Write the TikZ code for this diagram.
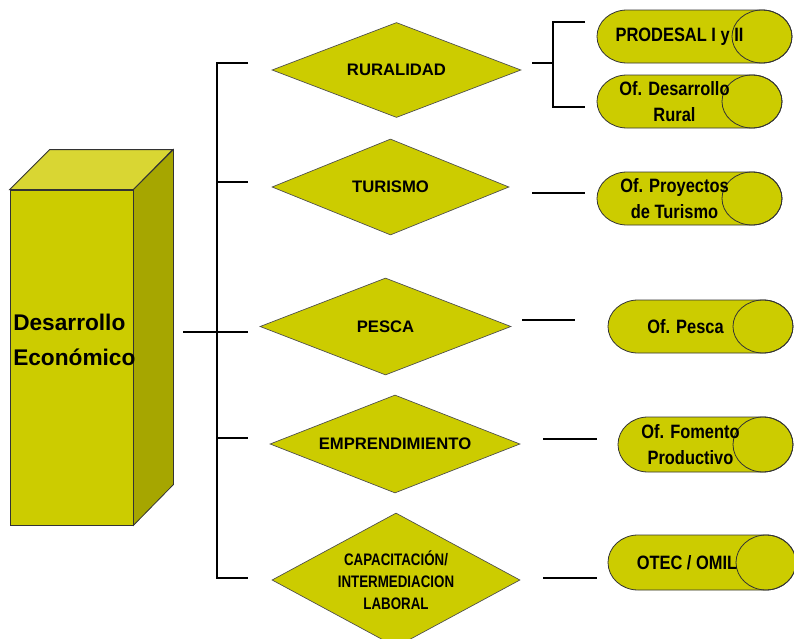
\documentclass[tikz,border=0pt]{standalone}
\usepackage{fontspec}
\setmainfont{Liberation Sans}
\newfontfamily\narrowfont[FakeStretch=0.8]{Liberation Sans}
\newfontfamily\pildfont[FakeStretch=0.85]{Liberation Sans}
\usetikzlibrary{shapes.geometric,positioning}
\definecolor{oliva}{RGB}{204,204,0}
\definecolor{olivaclara}{RGB}{217,214,51}
\definecolor{olivaoscura}{RGB}{166,166,0}
\tikzset{
  link/.style={line width=2.2pt},
  cara/.style={draw=black!80,line width=0.6pt},
  rombo/.style={diamond,draw=black!70,line width=0.5pt,fill=oliva,inner sep=0pt,aspect=2.6,
    font=\bfseries\fontsize{12.5}{15}\selectfont},
  pildtxt/.style={inner sep=0pt,align=center,font=\pildfont\bfseries\fontsize{14.5}{19}\selectfont},
}
\begin{document}
\begin{tikzpicture}[x=0.75pt,y=-0.75pt]
\useasboundingbox (0,0) rectangle (794,639);
% bloque
\node[cara,fill=oliva,minimum width=92.25pt,minimum height=251.25pt,inner sep=0pt] (box) at (71.5,357.5) {};
\draw[cara,fill=olivaclara](box.north west)--++(40,-40)--++(123,0)--(box.north east)--cycle;
\draw[cara,fill=olivaoscura](box.north east)--++(40,-40)--++(0,335)--(box.south east)--cycle;
\node[anchor=west,align=left,inner sep=0pt,font=\bfseries\fontsize{17}{26}\selectfont] (boxtxt) at (13,340) {Desarrollo\\Económico};
% rombos
\node[rombo,minimum width=186.75pt,minimum height=71.25pt] (rur) at (396.5,70) {RURALIDAD};
\node[rombo,minimum width=177.75pt,minimum height=72pt] (tur) at (390.5,187) {TURISMO};
\node[rombo,minimum width=188.25pt,minimum height=72.75pt] (pes) at (385.5,326.5) {PESCA};
\node[rombo,minimum width=187.5pt,minimum height=73.5pt] (emp) at (395,444) {EMPRENDIMIENTO};
\node[rombo,aspect=1.85,minimum width=186pt,minimum height=100.5pt,align=center,font=\narrowfont\bfseries\fontsize{12.5}{16.5}\selectfont] (cap) at (396,580) {CAPACITACIÓN/\\INTERMEDIACION\\LABORAL};
% pildoras
\foreach \n/\xa/\xb/\yc/\h/\txt in {prod/597/792/36.5/26.5/{PRODESAL I y II},
    odr/597/782/101.5/26.5/{Of. Desarrollo\\Rural},
    opt/597/782/198.5/26.5/{Of. Proyectos\\de Turismo},
    ope/608/793/326.5/26.5/{Of. Pesca},
    ofp/618/793/444.5/27.5/{Of. Fomento\\Productivo},
    otec/608/796/562.5/27.5/{OTEC / OMIL}}{
  \draw[cara,fill=oliva]({\xa+30},{\yc-\h})--({\xb-30},{\yc-\h}) arc (-90:90:30 and \h)
    --({\xa+30},{\yc+\h}) arc (90:270:30 and \h)--cycle;
  \draw[cara]({\xb-30},\yc) ellipse (30 and \h);
  \node[pildtxt] (\n) at ({(\xa+\xb-30)/2},\yc) {\txt};
}
% tronco
\draw[link](183,332)--(248,332);
\draw[link](248,63)--(217,63)--(217,578)--(248,578);
\foreach \y in {182,438}{\draw[link](217,\y)--(248,\y);}
% ramas derechas
\draw[link](532,63)--(553,63);
\draw[link](585,22)--(553,22)--(553,107)--(585,107);
\draw[link](532,193)--(585,193);
\draw[link](522,320)--(575,320);
\foreach \y in {439,578}{\draw[link](543,\y)--(597,\y);}
\end{tikzpicture}
\end{document}
